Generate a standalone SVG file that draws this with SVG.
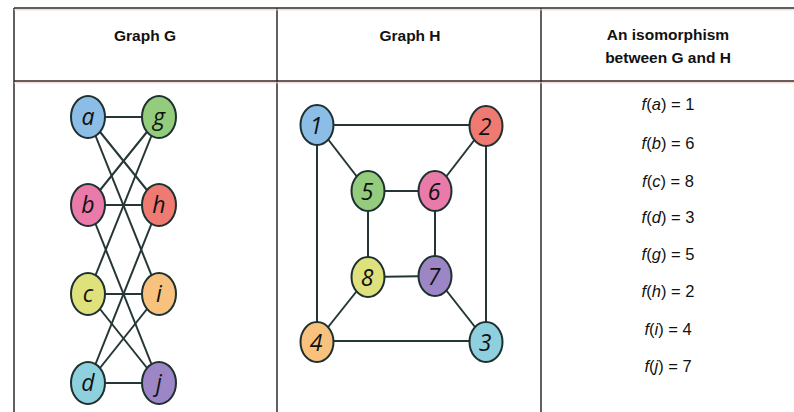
<svg xmlns="http://www.w3.org/2000/svg" width="794" height="412" viewBox="0 0 794 412">
<style>
.tbl{stroke:#2e2a2a;stroke-width:1.5;fill:none}
.hd{font-family:"Liberation Sans",Arial,sans-serif;font-weight:bold;font-size:15.5px;fill:#111;text-anchor:middle}
.e{stroke:#263636;stroke-width:2;fill:none}
.n{stroke:#1f3030;stroke-width:2}
.lb{font-family:"Open Sans","DejaVu Sans",sans-serif;font-style:italic;font-size:23px;fill:#111;text-anchor:middle;dominant-baseline:central}
.f{font-family:"Liberation Sans",Arial,sans-serif;font-size:16.5px;fill:#111;text-anchor:middle}
</style>
<rect width="794" height="412" fill="#ffffff"/>
<g id="table">
<line class="tbl" x1="14" y1="8" x2="794" y2="8"/>
<line class="tbl" x1="14" y1="81" x2="794" y2="81"/>
<line class="tbl" x1="14" y1="8" x2="14" y2="412"/>
<line class="tbl" x1="277" y1="8" x2="277" y2="412"/>
<line class="tbl" x1="541" y1="8" x2="541" y2="412"/>
<line x1="14" y1="9.8" x2="794" y2="9.8" stroke="#f4c8c0" stroke-width="1"/>
<line x1="14" y1="82.8" x2="794" y2="82.8" stroke="#f4c8c0" stroke-width="1"/>
</g>
<g id="headers">
<text class="hd" x="145" y="41">Graph G</text>
<text class="hd" x="410" y="41">Graph H</text>
<text class="hd" x="668" y="40">An isomorphism</text>
<text class="hd" x="668" y="63">between G and H</text>
</g>
<g id="connectors">
<line class="e" x1="88" y1="117" x2="159" y2="117"/>
<line class="e" x1="88" y1="117" x2="159" y2="205"/>
<line class="e" x1="88" y1="117" x2="159" y2="294"/>
<line class="e" x1="88" y1="205" x2="159" y2="117"/>
<line class="e" x1="88" y1="205" x2="159" y2="205"/>
<line class="e" x1="88" y1="205" x2="159" y2="383"/>
<line class="e" x1="88" y1="294" x2="159" y2="117"/>
<line class="e" x1="88" y1="294" x2="159" y2="294"/>
<line class="e" x1="88" y1="294" x2="159" y2="383"/>
<line class="e" x1="88" y1="383" x2="159" y2="205"/>
<line class="e" x1="88" y1="383" x2="159" y2="294"/>
<line class="e" x1="88" y1="383" x2="159" y2="383"/>
<line class="e" x1="317" y1="125" x2="486" y2="125"/>
<line class="e" x1="317" y1="125" x2="317" y2="341"/>
<line class="e" x1="317" y1="125" x2="368" y2="191"/>
<line class="e" x1="486" y1="125" x2="486" y2="341"/>
<line class="e" x1="486" y1="125" x2="435" y2="191"/>
<line class="e" x1="368" y1="191" x2="435" y2="191"/>
<line class="e" x1="368" y1="191" x2="368" y2="277"/>
<line class="e" x1="435" y1="191" x2="435" y2="276"/>
<line class="e" x1="368" y1="277" x2="435" y2="276"/>
<line class="e" x1="368" y1="277" x2="317" y2="341"/>
<line class="e" x1="435" y1="276" x2="486" y2="341"/>
<line class="e" x1="317" y1="341" x2="486" y2="341"/>
</g>
<g id="node-a"><ellipse class="n" cx="88" cy="117" rx="17" ry="21" fill="#8cbde6"/><text class="lb" x="88" y="116">a</text></g>
<g id="node-g"><ellipse class="n" cx="159" cy="117" rx="17" ry="21" fill="#92cc7c"/><text class="lb" x="159" y="116">g</text></g>
<g id="node-b"><ellipse class="n" cx="88" cy="205" rx="17" ry="21" fill="#ea7aaa"/><text class="lb" x="88" y="204">b</text></g>
<g id="node-h"><ellipse class="n" cx="159" cy="205" rx="17" ry="21" fill="#ef7a72"/><text class="lb" x="159" y="204">h</text></g>
<g id="node-c"><ellipse class="n" cx="88" cy="294" rx="17" ry="21" fill="#dfe27c"/><text class="lb" x="88" y="293">c</text></g>
<g id="node-i"><ellipse class="n" cx="159" cy="294" rx="17" ry="21" fill="#f8c27e"/><text class="lb" x="159" y="293">i</text></g>
<g id="node-d"><ellipse class="n" cx="88" cy="383" rx="17" ry="21" fill="#8ed0dd"/><text class="lb" x="88" y="382">d</text></g>
<g id="node-j"><ellipse class="n" cx="159" cy="383" rx="17" ry="21" fill="#9c86c6"/><text class="lb" x="159" y="382">j</text></g>
<g id="node-1"><ellipse class="n" cx="317" cy="125" rx="16.5" ry="20" fill="#8cbde6"/><text class="lb" x="316" y="125">1</text></g>
<g id="node-2"><ellipse class="n" cx="486" cy="126" rx="16.5" ry="20" fill="#ef7a72"/><text class="lb" x="485" y="126">2</text></g>
<g id="node-5"><ellipse class="n" cx="368" cy="191" rx="16.5" ry="20" fill="#92cc7c"/><text class="lb" x="367" y="191">5</text></g>
<g id="node-6"><ellipse class="n" cx="435" cy="191" rx="16.5" ry="20" fill="#ea7aaa"/><text class="lb" x="434" y="191">6</text></g>
<g id="node-8"><ellipse class="n" cx="368" cy="277" rx="16.5" ry="20" fill="#dfe27c"/><text class="lb" x="367" y="277">8</text></g>
<g id="node-7"><ellipse class="n" cx="435" cy="276" rx="16.5" ry="20" fill="#9c86c6"/><text class="lb" x="434" y="276">7</text></g>
<g id="node-4"><ellipse class="n" cx="317" cy="342" rx="16.5" ry="20" fill="#f8c27e"/><text class="lb" x="316" y="342">4</text></g>
<g id="node-3"><ellipse class="n" cx="486" cy="342" rx="16.5" ry="20" fill="#8ed0dd"/><text class="lb" x="485" y="342">3</text></g>
<g id="mapping">
<text class="f" x="668" y="110"><tspan font-style="italic">f</tspan>(<tspan font-style="italic">a</tspan>) = 1</text>
<text class="f" x="668" y="149"><tspan font-style="italic">f</tspan>(<tspan font-style="italic">b</tspan>) = 6</text>
<text class="f" x="668" y="187"><tspan font-style="italic">f</tspan>(<tspan font-style="italic">c</tspan>) = 8</text>
<text class="f" x="668" y="223"><tspan font-style="italic">f</tspan>(<tspan font-style="italic">d</tspan>) = 3</text>
<text class="f" x="668" y="260"><tspan font-style="italic">f</tspan>(<tspan font-style="italic">g</tspan>) = 5</text>
<text class="f" x="668" y="297"><tspan font-style="italic">f</tspan>(<tspan font-style="italic">h</tspan>) = 2</text>
<text class="f" x="668" y="335"><tspan font-style="italic">f</tspan>(<tspan font-style="italic">i</tspan>) = 4</text>
<text class="f" x="668" y="372"><tspan font-style="italic">f</tspan>(<tspan font-style="italic">j</tspan>) = 7</text>
</g>
</svg>
